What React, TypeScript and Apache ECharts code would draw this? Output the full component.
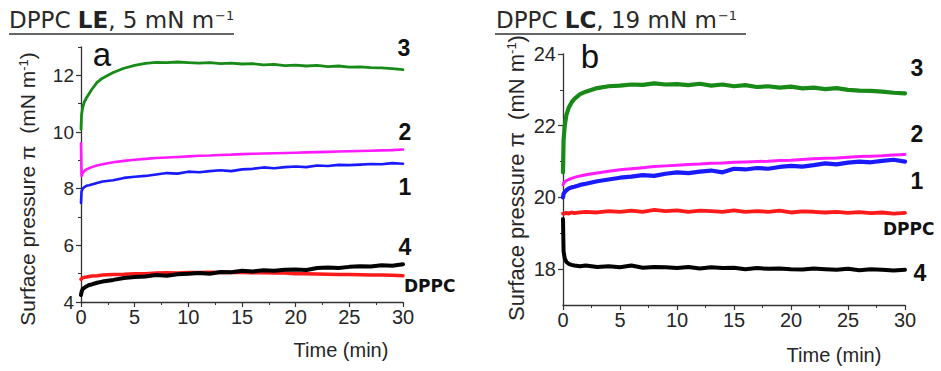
import React, { useEffect, useRef } from "react";
import * as echarts from "echarts";

// Time points (min), shared by all curves
const T = [0, 0.05, 0.15, 0.3, 0.5, 0.75, 1, 1.5, 2,
  3, 4, 5, 6, 7, 8, 9, 10, 11, 12,
  13, 14, 15, 16, 17, 18, 19, 20, 21, 22,
  23, 24, 25, 26, 27, 28, 29, 30];

// Panel a: DPPC LE, 5 mN/m
const A3 = [10.1, 10.6, 10.85, 11.05, 11.2, 11.35, 11.5, 11.75, 11.9,
  12.1, 12.25, 12.35, 12.42, 12.46, 12.45, 12.47, 12.45, 12.43, 12.45,
  12.41, 12.43, 12.4, 12.41, 12.37, 12.39, 12.34, 12.36, 12.33, 12.35,
  12.31, 12.33, 12.29, 12.3, 12.27, 12.26, 12.24, 12.2];
const A2 = [9.6, 8.45, 8.55, 8.62, 8.68, 8.72, 8.76, 8.82, 8.86,
  8.93, 8.98, 9.02, 9.05, 9.08, 9.1, 9.12, 9.14, 9.16, 9.17,
  9.19, 9.2, 9.22, 9.23, 9.24, 9.25, 9.26, 9.27, 9.28, 9.29,
  9.3, 9.31, 9.32, 9.33, 9.34, 9.35, 9.36, 9.38];
const A1 = [7.5, 7.9, 8.0, 8.05, 8.1, 8.12, 8.15, 8.2, 8.25,
  8.3, 8.38, 8.42, 8.45, 8.5, 8.55, 8.53, 8.6, 8.58, 8.62,
  8.65, 8.62, 8.68, 8.7, 8.75, 8.72, 8.76, 8.78, 8.76, 8.82,
  8.8, 8.84, 8.83, 8.85, 8.87, 8.86, 8.9, 8.88];
const A4 = [4.25, 4.35, 4.45, 4.5, 4.55, 4.6, 4.62, 4.68, 4.72,
  4.78, 4.85, 4.88, 4.9, 4.95, 4.93, 4.98, 5.0, 5.02, 5.0,
  5.06, 5.05, 5.1, 5.08, 5.12, 5.1, 5.14, 5.15, 5.13, 5.2,
  5.22, 5.2, 5.24, 5.26, 5.25, 5.3, 5.28, 5.33];
const AD = [4.8, 4.82, 4.85, 4.87, 4.88, 4.9, 4.92, 4.93, 4.95,
  4.97, 4.98, 5.0, 5.0, 5.02, 5.03, 5.02, 5.04, 5.04, 5.05,
  5.04, 5.05, 5.04, 5.03, 5.03, 5.02, 5.02, 5.0, 5.0, 4.99,
  4.98, 4.97, 4.97, 4.96, 4.95, 4.95, 4.94, 4.93];

// Panel b: DPPC LC, 19 mN/m
const B3 = [20.7, 21.6, 22.0, 22.3, 22.5, 22.65, 22.75, 22.88, 22.95,
  23.05, 23.1, 23.12, 23.15, 23.14, 23.18, 23.15, 23.16, 23.13, 23.17,
  23.12, 23.15, 23.1, 23.13, 23.08, 23.1, 23.06, 23.09, 23.04, 23.06,
  23.02, 23.05, 23.0, 22.98, 22.97, 22.95, 22.92, 22.9];
const B2 = [20.35, 20.4, 20.43, 20.47, 20.5, 20.53, 20.56, 20.6, 20.63,
  20.68, 20.73, 20.77, 20.8, 20.83, 20.86, 20.88, 20.9, 20.92, 20.93,
  20.95, 20.96, 20.98, 20.99, 21.0, 21.01, 21.03, 21.04, 21.06, 21.08,
  21.09, 21.1, 21.12, 21.14, 21.15, 21.16, 21.18, 21.2];
const B1 = [20.0, 20.1, 20.15, 20.2, 20.25, 20.28, 20.3, 20.35, 20.38,
  20.45, 20.5, 20.55, 20.58, 20.62, 20.6, 20.66, 20.7, 20.68, 20.72,
  20.75, 20.7, 20.8, 20.78, 20.82, 20.8, 20.85, 20.88, 20.86, 20.9,
  20.95, 20.92, 20.97, 21.0, 20.98, 21.02, 21.05, 21.0];
const BD = [19.55, 19.56, 19.55, 19.57, 19.55, 19.58, 19.56, 19.58, 19.6,
  19.58, 19.62, 19.6, 19.63, 19.6, 19.65, 19.62, 19.64, 19.6, 19.63,
  19.62, 19.6, 19.64, 19.6, 19.62, 19.6, 19.63, 19.58, 19.61, 19.6,
  19.58, 19.6, 19.57, 19.59, 19.56, 19.58, 19.55, 19.57];
const B4 = [19.4, 18.5, 18.3, 18.2, 18.15, 18.12, 18.1, 18.08, 18.1,
  18.06, 18.08, 18.05, 18.1, 18.04, 18.06, 18.05, 18.03, 18.06, 18.02,
  18.05, 18.03, 18.04, 18.0, 18.03, 18.01, 18.02, 18.0, 17.99, 18.02,
  18.0, 17.98, 18.01, 17.97, 18.0, 17.98, 17.96, 17.98];

// Tick labels
const X_TICKS = [0, 5, 10, 15, 20, 25, 30];
const YA_MAJOR = [4, 6, 8, 10, 12];
const YA_MINOR = [5, 7, 9, 11, 13];
const YB_MAJOR = [18, 20, 22, 24];
const YB_MINOR = [19, 21, 23];

const GREEN = "#188a18";
const MAGENTA = "#ff1aff";
const BLUE = "#1a1aff";
const RED = "#ff1a1a";
const BLACK = "#000000";
const AXIS = "#333333";
const TXT = "#262626";
const SANS = "'Liberation Sans', Arial, sans-serif";
const GOTHIC = "'DejaVu Sans', sans-serif";

function line(xi: number, yi: number, vals: number[], color: string, width: number, z: number) {
  return {
    type: "line",
    xAxisIndex: xi,
    yAxisIndex: yi,
    data: T.map((t, i) => [t, vals[i]]),
    showSymbol: false,
    symbol: "none",
    silent: true,
    z,
    lineStyle: { color, width, join: "round", cap: "round" },
    itemStyle: { color },
  };
}

function xAxis(grid: number) {
  return {
    gridIndex: grid,
    type: "value",
    min: 0,
    max: 30,
    interval: 5,
    axisLine: { show: true, lineStyle: { color: AXIS, width: 1.3 } },
    axisTick: { show: true, length: 5, lineStyle: { color: AXIS, width: 1.2 }, customValues: X_TICKS },
    minorTick: { show: true, splitNumber: 2, length: 3, lineStyle: { color: AXIS, width: 1 } },
    axisLabel: { color: TXT, fontSize: 20, fontFamily: SANS, margin: 5, customValues: X_TICKS },
    splitLine: { show: false },
    minorSplitLine: { show: false },
  };
}

function yMain(grid: number, min: number, max: number, ticks: number[], fs: number) {
  return {
    gridIndex: grid,
    type: "value",
    position: "left",
    min,
    max,
    axisLine: { show: true, lineStyle: { color: AXIS, width: 1.3 } },
    axisTick: { show: true, length: 5, lineStyle: { color: AXIS, width: 1.2 }, customValues: ticks },
    axisLabel: { color: TXT, fontSize: fs, fontFamily: SANS, margin: 7, customValues: ticks },
    splitLine: { show: false },
  };
}

function yMinor(grid: number, min: number, max: number, ticks: number[]) {
  return {
    gridIndex: grid,
    type: "value",
    position: "left",
    offset: 0,
    min,
    max,
    axisLine: { show: false },
    axisTick: { show: true, length: 3, lineStyle: { color: AXIS, width: 1 }, customValues: ticks },
    axisLabel: { show: false },
    splitLine: { show: false },
  };
}

function label(text: string, x: number, y: number, size: number, family = SANS, align = "center") {
  return {
    type: "text",
    x,
    y,
    silent: true,
    style: {
      text,
      fontSize: size,
      fontWeight: "bold",
      fontFamily: family,
      fill: "#111",
      textAlign: align,
      align,
      textVerticalAlign: "middle",
      verticalAlign: "middle",
    },
  };
}

function title(bold: string, rest: string, x: number, y: number) {
  return {
    type: "text",
    x,
    y,
    silent: true,
    style: {
      text: `{n|DPPC }{b|${bold}}{n|, ${rest} mN m}{s|−1}`,
      textAlign: "left",
      align: "left",
      textVerticalAlign: "middle",
      verticalAlign: "middle",
      rich: {
        n: { fontSize: 23, fontFamily: GOTHIC, fill: "#2a2a2a", fontWeight: "normal" },
        b: { fontSize: 23, fontFamily: GOTHIC, fill: "#222", fontWeight: "bold" },
        s: { fontSize: 13, fontFamily: GOTHIC, fill: "#2a2a2a", verticalAlign: "top", padding: [0, 0, 9, 1] },
      },
    },
  };
}

function yName(x: number, y: number, fs: number) {
  return {
    type: "text",
    x,
    y,
    rotation: Math.PI / 2,
    silent: true,
    style: {
      text: "{n|Surface pressure π  (mN m}{s|-1}{n|)}",
      textAlign: "center",
      align: "center",
      textVerticalAlign: "middle",
      verticalAlign: "middle",
      rich: {
        n: { fontSize: fs, fontFamily: SANS, fill: TXT },
        s: { fontSize: Math.round(fs * 0.6), fontFamily: SANS, fill: TXT, verticalAlign: "top", padding: [0, 0, 8, 0] },
      },
    },
  };
}

function xName(x: number, y: number) {
  return {
    type: "text",
    x,
    y,
    silent: true,
    style: {
      text: "Time (min)",
      fontSize: 20,
      fontFamily: SANS,
      fill: TXT,
      textAlign: "center",
      align: "center",
      textVerticalAlign: "middle",
      verticalAlign: "middle",
    },
  };
}

function letter(text: string, x: number, y: number) {
  return {
    type: "text",
    x,
    y,
    silent: true,
    style: {
      text,
      fontSize: 33,
      fontFamily: SANS,
      fill: "#111",
      textAlign: "center",
      align: "center",
      textVerticalAlign: "middle",
      verticalAlign: "middle",
    },
  };
}

export default function App() {
  const ref = useRef<HTMLDivElement>(null);
  useEffect(() => {
    if (!ref.current) return;
    const chart = echarts.init(ref.current, null, { renderer: "svg" });
    chart.setOption({
      animation: false,
      backgroundColor: "#ffffff",
      grid: [
        { left: 81, top: 47, width: 322, height: 255 },
        { left: 563, top: 54, width: 342, height: 251 },
      ],
      xAxis: [xAxis(0), xAxis(1)],
      yAxis: [
        yMain(0, 4, 13, YA_MAJOR, 19),
        yMinor(0, 4, 13, YA_MINOR),
        yMain(1, 17, 24, YB_MAJOR, 20),
        yMinor(1, 17, 24, YB_MINOR),
      ],
      series: [
        line(0, 0, AD, RED, 3.5, 2),
        line(0, 0, A4, BLACK, 4, 3),
        line(0, 0, A1, BLUE, 2.6, 4),
        line(0, 0, A2, MAGENTA, 2.6, 5),
        line(0, 0, A3, GREEN, 2.8, 6),
        line(1, 2, B4, BLACK, 4, 2),
        line(1, 2, BD, RED, 3.8, 3),
        line(1, 2, B1, BLUE, 4.2, 4),
        line(1, 2, B2, MAGENTA, 3, 5),
        line(1, 2, B3, GREEN, 4.2, 6),
      ],
      graphic: [
        title("LE", "5", 9, 20),
        { type: "line", silent: true, shape: { x1: 9, y1: 34, x2: 234, y2: 34 }, style: { stroke: "#333", lineWidth: 1.3 } },
        title("LC", "19", 496, 20),
        { type: "line", silent: true, shape: { x1: 495, y1: 34, x2: 746, y2: 34 }, style: { stroke: "#333", lineWidth: 1.3 } },
        letter("a", 102, 54),
        letter("b", 590, 56),
        label("3", 404, 48, 23),
        label("2", 405, 132, 23),
        label("1", 405, 187, 23),
        label("4", 405, 247, 23),
        label("DPPC", 404, 286, 17, GOTHIC, "left"),
        label("3", 917, 68, 23),
        label("2", 917, 134, 23),
        label("1", 917, 181, 23),
        label("DPPC", 883, 229, 17, GOTHIC, "left"),
        label("4", 920, 273, 23),
        yName(27, 189, 21),
        yName(516, 178, 22),
        xName(341, 350),
        xName(834, 355),
      ],
    });
    return () => chart.dispose();
  }, []);
  return (
    <div
      ref={ref}
      style={{ position: "absolute", left: 0, top: 0, width: 941, height: 371, background: "#fff" }}
    />
  );
}
